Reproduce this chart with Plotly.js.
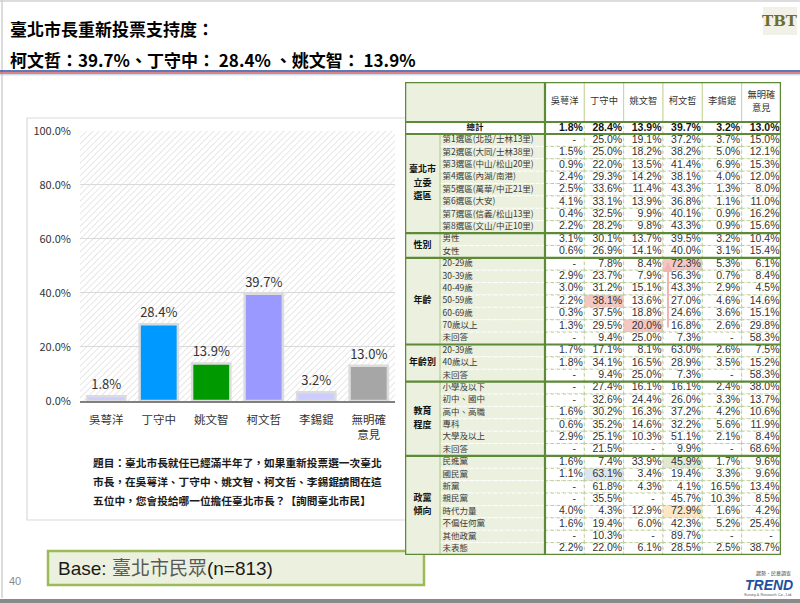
<!DOCTYPE html>
<html>
<head>
<meta charset="utf-8">
<script src="https://cdn.plot.ly/plotly-3.0.1.min.js"></script>
<style>
  html, body { margin: 0; padding: 0; background: #ffffff; }
  #chart { width: 800px; height: 603px; }
</style>
</head>
<body>
<div id="chart"></div>
<script>
// ---------------- DATA ----------------
const candidates = ['吳萼洋', '丁守中', '姚文智', '柯文哲', '李錫錕', '無明確意見'];
const candidateLabels = ['吳萼洋', '丁守中', '姚文智', '柯文哲', '李錫錕', '無明確<br>意見'];
const support = [1.8, 28.4, 13.9, 39.7, 3.2, 13.0];   // 總計
const barColors = ['#ccccff', '#0099ff', '#009900', '#9999ff', '#ccccff', '#a6a6a6'];
const yTicks = [0, 20, 40, 60, 80, 100];

const groupNames = ['臺北市<br>立委<br>選區', '性別', '年齡', '年齡別', '教育<br>程度', '政黨<br>傾向'];
const groupSizes = [8, 2, 7, 3, 6, 8];

const rowLabels = [
  '第1選區(北投/士林13里)', '第2選區(大同/士林38里)', '第3選區(中山/松山20里)', '第4選區(內湖/南港)',
  '第5選區(萬華/中正21里)', '第6選區(大安)', '第7選區(信義/松山13里)', '第8選區(文山/中正10里)',
  '男性', '女性',
  '20-29歲', '30-39歲', '40-49歲', '50-59歲', '60-69歲', '70歲以上', '未回答',
  '20-39歲', '40歲以上', '未回答',
  '小學及以下', '初中、國中', '高中、高職', '專科', '大學及以上', '未回答',
  '民進黨', '國民黨', '新黨', '親民黨', '時代力量', '不偏任何黨', '其他政黨', '未表態'
];

// null = "-"
const colWu   = [null,1.5,0.9,2.4,2.5,4.1,0.4,2.2, 3.1,0.6, null,2.9,3.0,2.2,0.3,1.3,null, 1.7,1.8,null, null,null,1.6,0.6,2.9,null, 1.6,1.1,null,null,4.0,1.6,null,2.2];
const colDing = [25.0,25.0,22.0,29.3,33.6,33.1,32.5,28.2, 30.1,26.9, 7.8,23.7,31.2,38.1,37.5,29.5,9.4, 17.1,34.1,9.4, 27.4,32.6,30.2,35.2,25.1,21.5, 7.4,63.1,61.8,35.5,4.3,19.4,10.3,22.0];
const colYao  = [19.1,18.2,13.5,14.2,11.4,13.9,9.9,9.8, 13.7,14.1, 8.4,7.9,15.1,13.6,18.8,20.0,25.0, 8.1,16.5,25.0, 16.1,24.4,16.3,14.6,10.3,null, 33.9,3.4,4.3,null,12.9,6.0,null,6.1];
const colKo   = [37.2,38.2,41.4,38.1,43.3,36.8,40.1,43.3, 39.5,40.0, 72.3,56.3,43.3,27.0,24.6,16.8,7.3, 63.0,28.9,7.3, 16.1,26.0,37.2,32.2,51.1,9.9, 45.9,19.4,4.1,45.7,72.9,42.3,89.7,28.5];
const colLee  = [3.7,5.0,6.9,4.0,1.3,1.1,0.9,0.9, 3.2,3.1, 5.3,0.7,2.9,4.6,3.6,2.6,null, 2.6,3.5,null, 2.4,3.3,4.2,5.6,2.1,null, 1.7,3.3,16.5,10.3,1.6,5.2,null,2.5];
const colNone = [15.0,12.1,15.3,12.0,8.0,11.0,16.2,15.6, 10.4,15.4, 6.1,8.4,4.5,14.6,15.1,29.8,58.3, 7.5,15.2,58.3, 38.0,13.7,10.6,11.9,8.4,68.6, 9.6,9.6,13.4,8.5,4.2,25.4,null,38.7];
const tableCols = [colWu, colDing, colYao, colKo, colLee, colNone];

// highlighted cells: [row, col, colour]
const highlights = [[10,3,'#f4c7c3'], [13,1,'#f4c7c3'], [15,2,'#f4c7c3'], [26,3,'#e0e8d2'], [27,1,'#dce6f2'], [30,3,'#fde6c4']];

const questionLines = [
  '題目：臺北市長就任已經滿半年了，如果重新投票選一次臺北',
  '市長，在吳萼洋、丁守中、姚文智、柯文哲、李錫錕請問在這',
  '五位中，您會投給哪一位擔任臺北市長？【詢問臺北市民】'
];

// ---------------- LAYOUT HELPERS ----------------
const W = 800, H = 603;
const px = x => x / W;
const py = y => 1 - y / H;
const CJK = 'Noto Sans CJK TC, Noto Sans, sans-serif';
const LAT = 'Liberation Sans, Arial, sans-serif';

// bar chart plot area (pixels)
const plotL = 80, plotR = 395, plotT = 130.7, plotB = 401;

// table geometry (pixels)
const TX0 = 405, TY0 = 82, TW = 376, TH = 473;
const headH = 40, totH = 12, gW = 35, lW = 105;
const dX0 = gW + lW;
const cw = (TW - dX0) / 6;
const nRows = rowLabels.length;
const rh = (TH - headH - totH) / nRows;
const rowTop = r => headH + totH + r * rh;
const rowMid = r => headH + totH + (r + 0.5) * rh;
const fmt = v => v.toFixed(1) + '%';

// split multi-line labels into separately placed lines
function splitLines(labels, xs, ys, gap) {
  const out = { x: [], y: [], t: [] };
  labels.forEach((lab, i) => {
    const parts = lab.split('<br>');
    parts.forEach((p, k) => {
      out.x.push(xs[i]);
      out.y.push(ys[i] + (k - (parts.length - 1) / 2) * gap);
      out.t.push(p);
    });
  });
  return out;
}

// ---------------- TRACES ----------------
const traces = [];

traces.push({
  type: 'bar', x: candidates, y: support,
  marker: { color: barColors, line: { color: '#dcdcdc', width: 2.5 } },
  texttemplate: '%{y:.1f}%', textposition: 'outside', cliponaxis: false,
  textfont: { family: CJK, size: 13, color: '#333333' },
  hoverinfo: 'skip', showlegend: false
});

// table header
{
  const h = splitLines(candidateLabels, candidates.map((c, i) => dX0 + (i + 0.5) * cw), candidates.map(() => headH / 2), 13.5);
  traces.push({
    type: 'scatter', mode: 'text', xaxis: 'x3', yaxis: 'y3',
    x: h.x, y: h.y, text: h.t, textposition: 'middle center',
    textfont: { family: CJK, size: 9.3, color: '#333333' }, hoverinfo: 'skip', showlegend: false
  });
}
// total row label
traces.push({
  type: 'scatter', mode: 'text', xaxis: 'x3', yaxis: 'y3',
  x: [dX0 / 2], y: [headH + totH / 2], text: ['總計'], textposition: 'middle center',
  textfont: { family: CJK, size: 8.5, color: '#111111', weight: 'bold' }, hoverinfo: 'skip', showlegend: false
});
// total row values
traces.push({
  type: 'scatter', mode: 'text', xaxis: 'x3', yaxis: 'y3',
  x: support.map((v, i) => dX0 + (i + 1) * cw - 1.5), y: support.map(() => headH + totH / 2),
  text: support.map(fmt), textposition: 'middle left',
  textfont: { family: LAT, size: 10.5, color: '#111111', weight: 'bold' }, hoverinfo: 'skip', showlegend: false
});
// row labels
traces.push({
  type: 'scatter', mode: 'text', xaxis: 'x3', yaxis: 'y3',
  x: rowLabels.map(() => gW + 2.5), y: rowLabels.map((l, r) => rowMid(r)),
  text: rowLabels, textposition: 'middle right',
  textfont: { family: CJK, size: 8.5, color: '#3a3a3a' }, hoverinfo: 'skip', showlegend: false
});
// group labels
{
  let cum = 0; const gx = [], gy = [];
  groupSizes.forEach(n => { gx.push(gW / 2); gy.push(headH + totH + (cum + n / 2) * rh); cum += n; });
  const g = splitLines(groupNames, gx, gy, 13.4);
  traces.push({
    type: 'scatter', mode: 'text', xaxis: 'x3', yaxis: 'y3',
    x: g.x, y: g.y, text: g.t, textposition: 'middle center',
    textfont: { family: CJK, size: 9, color: '#111111', weight: 'bold' }, hoverinfo: 'skip', showlegend: false
  });
}
// values
{
  const vx = [], vy = [], vt = [], dx = [], dy = [];
  tableCols.forEach((col, c) => {
    col.forEach((v, r) => {
      if (v === null) { dx.push(dX0 + (c + 1) * cw - 10); dy.push(rowMid(r)); }
      else { vx.push(dX0 + (c + 1) * cw - 1.5); vy.push(rowMid(r)); vt.push(fmt(v)); }
    });
  });
  traces.push({
    type: 'scatter', mode: 'text', xaxis: 'x3', yaxis: 'y3',
    x: vx, y: vy, text: vt, textposition: 'middle left',
    textfont: { family: LAT, size: 10.5, color: '#333333' }, hoverinfo: 'skip', showlegend: false
  });
  traces.push({
    type: 'scatter', mode: 'text', xaxis: 'x3', yaxis: 'y3',
    x: dx, y: dy, text: dx.map(() => '-'), textposition: 'middle center',
    textfont: { family: LAT, size: 10.5, color: '#333333' }, hoverinfo: 'skip', showlegend: false
  });
}

// ---------------- SHAPES ----------------
const shapes = [];
const pRect = (x0, y0, x1, y1, fill, line, lw, extra) => Object.assign({
  type: 'rect', xref: 'paper', yref: 'paper', x0: px(x0), x1: px(x1), y0: py(y1), y1: py(y0),
  fillcolor: fill || 'rgba(0,0,0,0)', line: { color: line || 'rgba(0,0,0,0)', width: lw || 0 }, layer: 'below'
}, extra || {});
const pLine = (x0, y0, x1, y1, color, w) => ({
  type: 'line', xref: 'paper', yref: 'paper', x0: px(x0), x1: px(x1), y0: py(y0), y1: py(y1),
  line: { color: color, width: w }, layer: 'below'
});

// slide frame
shapes.push(pLine(0, 1, 800, 1, '#d0d0d0', 1.5));
shapes.push(pLine(2, 0, 2, 598, '#d0d0d0', 1.5));
shapes.push(pRect(0, 599, 800, 603, '#8a8a8a', null, 0));
// title rule
shapes.push(pLine(0, 71, 800, 71, '#2b4aa0', 1.5));
shapes.push(pLine(0, 73, 800, 73, '#d05a5a', 1.5));
shapes.push(pLine(0, 74.8, 800, 74.8, '#b9cbe6', 1));
// logo background
shapes.push(pRect(763, 7, 797, 35, '#f1f1e8', null, 0));
// chart box
shapes.push(pRect(27, 118, 410, 520, null, '#d9d9d9', 1.2));
// base box
shapes.push(pRect(48, 551, 424, 585, '#ebf1de', '#9bbb59', 2.5));

// table shapes (in table axis units)
const tRect = (x0, y0, x1, y1, fill, line, lw, dash) => ({
  type: 'rect', xref: 'x3', yref: 'y3', x0: x0, x1: x1, y0: y0, y1: y1,
  fillcolor: fill || 'rgba(0,0,0,0)', line: { color: line || 'rgba(0,0,0,0)', width: lw || 0, dash: dash || 'solid' }, layer: 'below'
});
const tLine = (x0, y0, x1, y1, color, w) => ({
  type: 'line', xref: 'x3', yref: 'y3', x0: x0, x1: x1, y0: y0, y1: y1,
  line: { color: color, width: w }, layer: 'above'
});
shapes.push(tRect(0, 0, dX0, headH, '#ebf1de'));
candidates.forEach((c, i) => shapes.push(tRect(dX0 + i * cw, 0, dX0 + (i + 1) * cw, headH, '#ffffff', '#c4d79b', 1)));
shapes.push(tRect(0, headH, dX0, headH + totH, '#ffffff'));
candidates.forEach((c, i) => shapes.push(tRect(dX0 + i * cw, headH, dX0 + (i + 1) * cw, headH + totH, '#ffffff', '#c4d79b', 1, 'dot')));
shapes.push(tRect(0, headH + totH, gW, TH, '#ebf1de'));
rowLabels.forEach((l, r) => shapes.push(tRect(gW, rowTop(r), dX0, rowTop(r + 1), '#ebf1de', '#ffffff', 1, 'dot')));
tableCols.forEach((col, c) => col.forEach((v, r) => {
  const h = highlights.find(q => q[0] === r && q[1] === c);
  shapes.push(tRect(dX0 + c * cw, rowTop(r), dX0 + (c + 1) * cw, rowTop(r + 1), h ? h[2] : '#ffffff', '#b9cd96', 1, 'dot'));
}));
// structure lines
const dark = '#5d8a36';
shapes.push(tLine(gW, headH + totH, gW, TH, '#a9c47f', 1));
shapes.push(tLine(0, headH, TW, headH, dark, 2.2));
shapes.push(tLine(0, headH + totH, TW, headH + totH, dark, 2.2));
{
  let cum = 0;
  groupSizes.slice(0, -1).forEach(n => { cum += n; shapes.push(tLine(0, rowTop(cum), TW, rowTop(cum), dark, 2.2)); });
}
shapes.push(tLine(dX0, 0, dX0, TH, dark, 2.2));
shapes.push(Object.assign(tRect(0, 0, TW, TH, null, dark, 2.5), { layer: 'above' }));

// ---------------- ANNOTATIONS ----------------
const annotations = [];
const pText = (x, y, text, size, color, anchor, extra) => Object.assign({
  xref: 'paper', yref: 'paper', x: px(x), y: py(y), text: text, showarrow: false,
  xanchor: anchor || 'left', yanchor: 'middle',
  font: { family: CJK, size: size, color: color }
}, extra || {});

annotations.push(pText(8, 28, '臺北市長重新投票支持度：', 17, '#000000', 'left', { font: { family: CJK, size: 17, color: '#000', weight: 'bold' } }));
annotations.push(pText(8, 59, '柯文哲：39.7%、丁守中： 28.4% 、姚文智： 13.9%', 17, '#000000', 'left', { font: { family: CJK, size: 17, color: '#000', weight: 'bold' } }));
annotations.push(pText(780, 21, 'TBT', 15, '#6e6e2c', 'center', { font: { family: 'DejaVu Serif, serif', size: 15, color: '#6e6e2c', weight: 'bold' } }));

questionLines.forEach((t, i) => annotations.push(pText(91, 463 + i * 18.6, t, 10.7, '#1a1a1a', 'left', { font: { family: CJK, size: 10.7, color: '#1a1a1a', weight: 'bold' } })));

annotations.push(pText(56, 568, 'Base: <span style="color:#5a5a5a">臺北市民眾</span>(n=813)', 19, '#1a1a1a', 'left', { font: { family: LAT + ', ' + CJK, size: 19, color: '#1a1a1a' } }));
annotations.push(pText(15, 581, '40', 11, '#8a8a8a', 'center', { font: { family: LAT, size: 11, color: '#8a8a8a' } }));

annotations.push(pText(773, 573, '趨勢．民意調查', 5, '#444444', 'center'));
annotations.push(pText(769, 584.5, '<i><b>TREND</b></i>', 14, '#1f4f9e', 'center', { font: { family: LAT, size: 14, color: '#1f4f9e' } }));
annotations.push(pText(768, 594.5, 'Survey & Research Co., Ltd.', 3.8, '#555555', 'center', { font: { family: LAT, size: 3.8, color: '#555' } }));

// pink arrow in table (70歲以上 → 20-29歲, 柯文哲 column)
annotations.push({
  xref: 'x3', yref: 'y3', axref: 'x3', ayref: 'y3',
  x: dX0 + 3 * cw + 5, y: rowMid(10) - 2, ax: dX0 + 3 * cw + 5, ay: rowMid(15) + 3,
  text: '', showarrow: true, arrowhead: 2, arrowsize: 1, arrowwidth: 2, arrowcolor: '#f4b3b3'
});

// hatch background for plot area
const hatchSvg = "<svg xmlns='http://www.w3.org/2000/svg' width='315' height='271'><defs><pattern id='p' width='4.5' height='4.5' patternUnits='userSpaceOnUse' patternTransform='rotate(45)'><line x1='0' y1='0' x2='0' y2='4.5' stroke='#d6d6d6' stroke-width='1.2'/></pattern></defs><rect width='100%' height='100%' fill='url(#p)'/></svg>";

const layout = {
  width: W, height: H,
  margin: { l: 0, r: 0, t: 0, b: 0 },
  paper_bgcolor: '#ffffff', plot_bgcolor: 'rgba(0,0,0,0)',
  showlegend: false, bargap: 0.27,
  font: { family: CJK },
  xaxis: {
    domain: [px(plotL), px(plotR)], anchor: 'y',
    tickvals: candidates, ticktext: candidateLabels,
    tickfont: { family: CJK, size: 11.5, color: '#333333' },
    showline: true, linecolor: '#808080', linewidth: 1.5,
    ticks: '', ticklabelstandoff: 8, showgrid: false, fixedrange: true
  },
  yaxis: {
    domain: [py(plotB), py(plotT)], anchor: 'x', range: [0, 100],
    tickvals: yTicks, ticktext: yTicks.map(v => v.toFixed(1) + '%'),
    tickfont: { family: CJK, size: 11, color: '#333333' },
    showgrid: true, gridcolor: '#d9d9d9', gridwidth: 1, zeroline: false, showline: false,
    ticks: '', ticklabelstandoff: 8, fixedrange: true
  },
  xaxis3: { domain: [px(TX0), px(TX0 + TW)], range: [0, TW], anchor: 'y3', visible: false, fixedrange: true },
  yaxis3: { domain: [py(TY0 + TH), py(TY0)], range: [TH, 0], anchor: 'x3', visible: false, fixedrange: true },
  images: [{
    source: 'data:image/svg+xml;charset=utf-8,' + encodeURIComponent(hatchSvg),
    xref: 'paper', yref: 'paper', x: px(plotL), y: py(plotT),
    sizex: px(plotR) - px(plotL), sizey: py(plotT) - py(plotB),
    sizing: 'stretch', xanchor: 'left', yanchor: 'top', layer: 'below'
  }],
  shapes: shapes,
  annotations: annotations
};

Plotly.newPlot('chart', traces, layout, { displayModeBar: false, staticPlot: true });
</script>
</body>
</html>
